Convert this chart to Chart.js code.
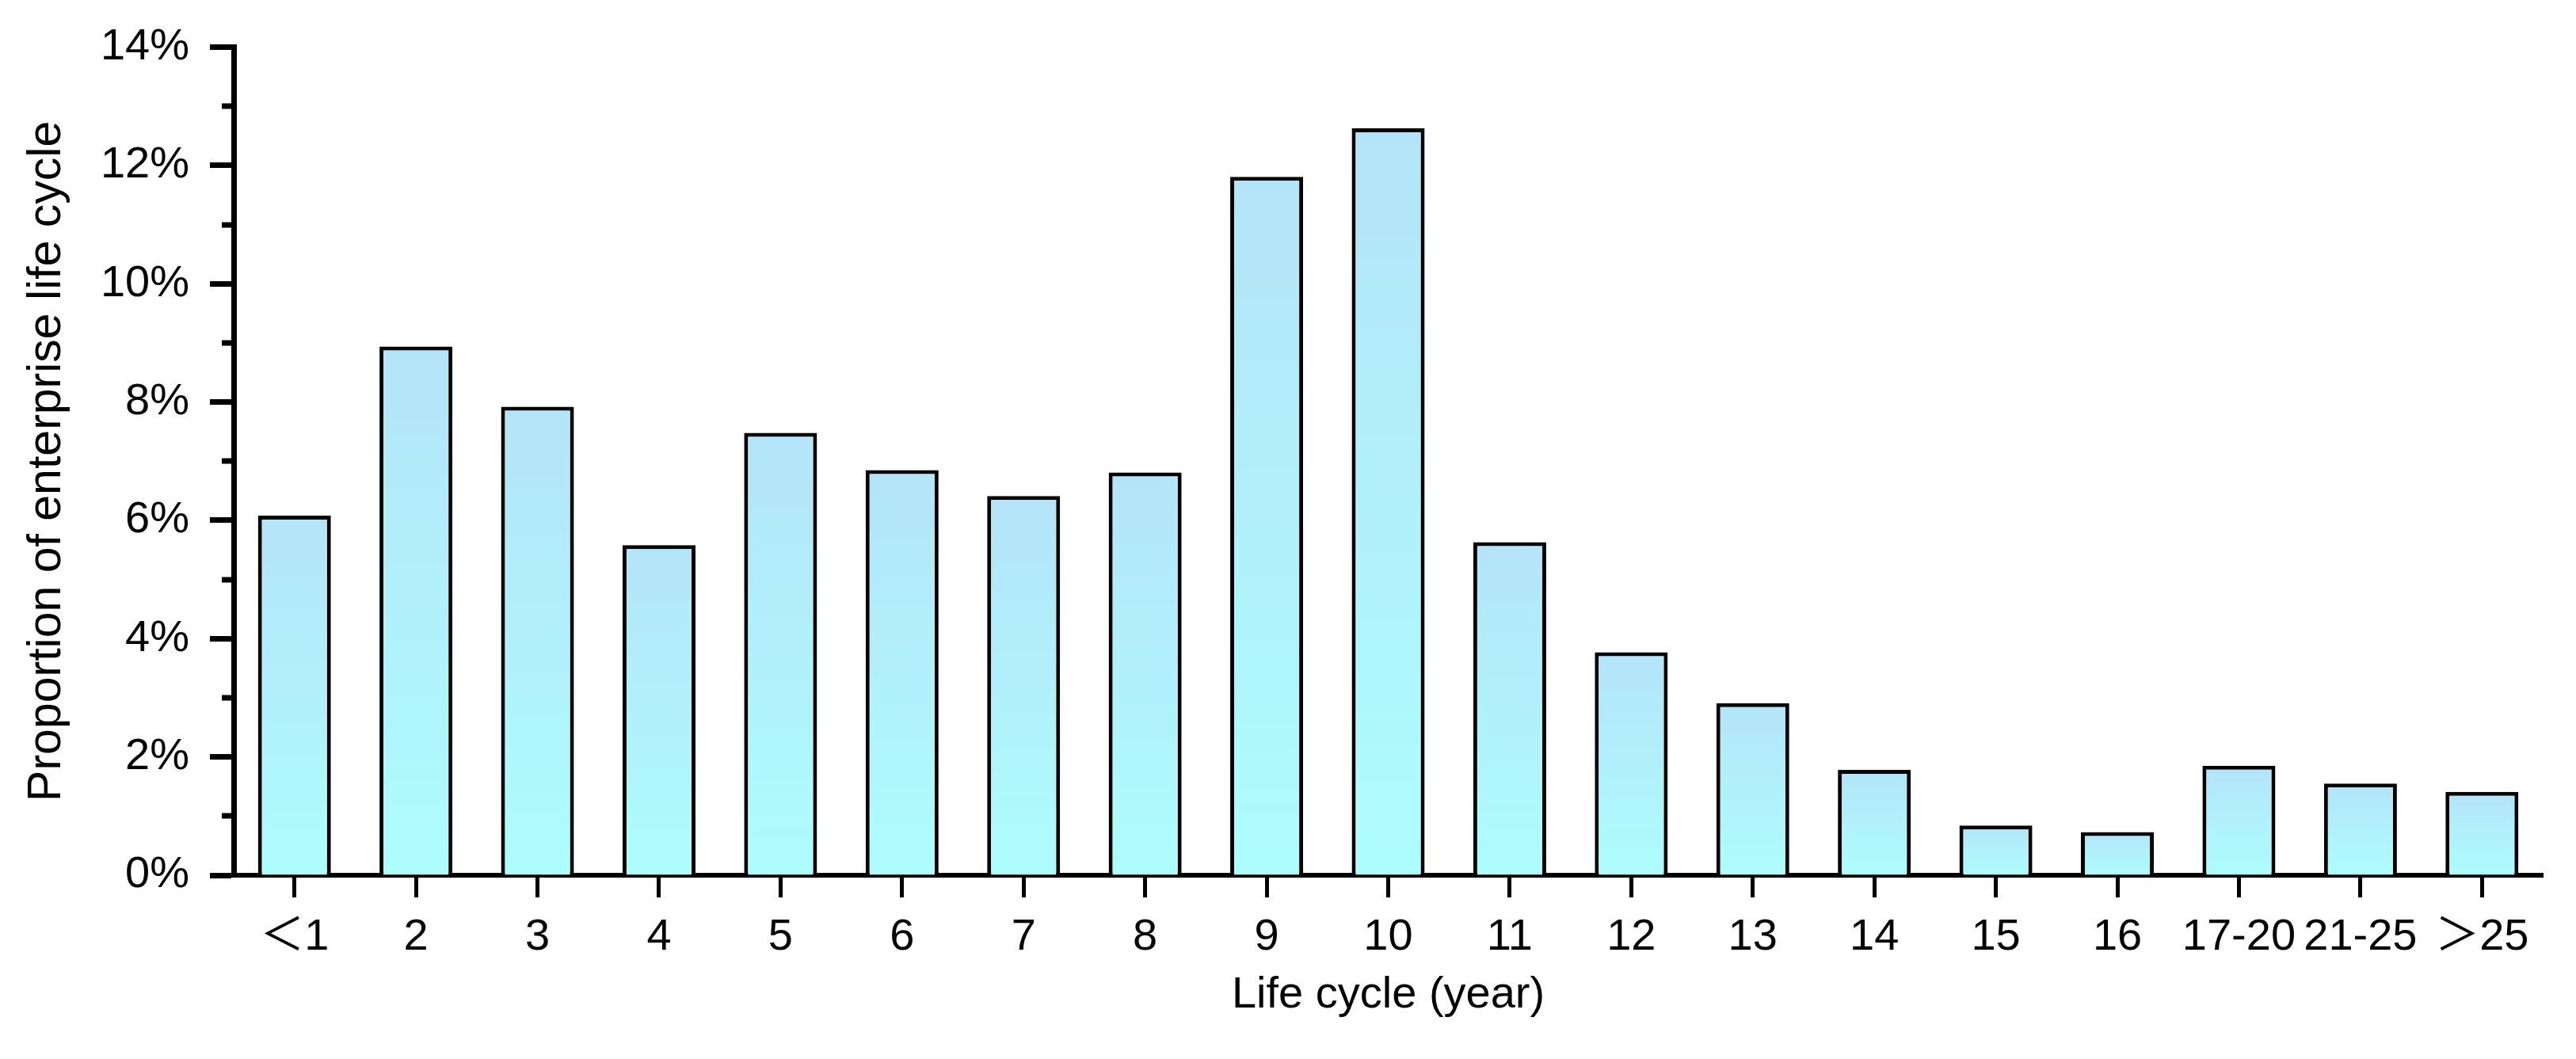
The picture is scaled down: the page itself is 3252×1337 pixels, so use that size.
<!DOCTYPE html>
<html>
<head>
<meta charset="utf-8">
<script src="https://cdn.jsdelivr.net/npm/chart.js@4.4.1/dist/chart.umd.min.js"></script>
<style>
  body { margin: 0; background: #fff; }
  canvas { display: block; }
</style>
</head>
<body>
<canvas id="myChart" width="3252" height="1337"></canvas>
<script>
// data (percent of enterprises)
const categories = ["＜1", "2", "3", "4", "5", "6", "7", "8", "9", "10",
  "11", "12", "13", "14", "15", "16", "17-20", "21-25", "＞25"];
const shares = [6.08, 8.94, 7.92, 5.58, 7.48, 6.85, 6.41, 6.81, 11.81, 12.63,
  5.63, 3.77, 2.91, 1.78, 0.84, 0.73, 1.85, 1.55, 1.41];
const yMax = 14;
const yStep = 2;

Chart.defaults.font.family = '"Liberation Sans", Arial, "Noto Sans CJK SC", sans-serif';
Chart.defaults.font.size = 56;
Chart.defaults.color = "#000";

// light blue at the top of each bar fading to cyan at the base
function barGradient(ctx) {
  const chart = ctx.chart;
  const { chartArea, scales } = chart;
  if (!chartArea || ctx.type !== "data") return "#b4e8f8";
  const top = scales.y.getPixelForValue(ctx.parsed.y);
  const bottom = scales.y.getPixelForValue(0);
  const g = chart.ctx.createLinearGradient(0, top, 0, bottom);
  g.addColorStop(0, "#b4e4f8");
  g.addColorStop(1, "#adfdfd");
  return g;
}

// short unlabeled ticks between the major ones
const minorTicks = {
  id: "minorTicks",
  afterDraw(chart) {
    const y = chart.scales.y;
    const c = chart.ctx;
    c.save();
    c.strokeStyle = "#000";
    c.lineWidth = 7;
    for (let v = yStep / 2; v < yMax; v += yStep) {
      const py = Math.round(y.getPixelForValue(v));
      c.beginPath();
      c.moveTo(chart.chartArea.left - 15, py);
      c.lineTo(chart.chartArea.left, py);
      c.stroke();
    }
    c.restore();
  }
};

new Chart(document.getElementById("myChart"), {
  type: "bar",
  data: {
    labels: categories,
    datasets: [{
      label: "Proportion",
      data: shares,
      backgroundColor: barGradient,
      borderColor: "#000",
      borderWidth: 5,
      borderSkipped: "bottom",
      categoryPercentage: 1,
      barPercentage: 0.6
    }]
  },
  options: {
    responsive: false,
    animation: false,
    devicePixelRatio: 1,
    layout: { padding: { left: 0, right: 42, top: 52, bottom: 47 } },
    plugins: { legend: { display: false }, tooltip: { enabled: false } },
    scales: {
      x: {
        z: 1,
        offset: true,
        afterFit(scale) { scale.height = 185; },
        grid: { offset: false, drawOnChartArea: false, tickLength: 28, tickWidth: 5, tickColor: "#000" },
        border: { display: true, color: "#000", width: 6 },
        ticks: { padding: 17, maxRotation: 0, autoSkip: false },
        title: { display: true, text: "Life cycle (year)", padding: { top: 0, bottom: 0 } }
      },
      y: {
        z: 1,
        min: 0,
        max: yMax,
        afterFit(scale) { scale.width = 295; },
        grid: { drawOnChartArea: false, tickLength: 30, tickWidth: 7, tickColor: "#000" },
        border: { display: true, color: "#000", width: 7 },
        ticks: { stepSize: yStep, padding: 26, callback: v => v + "%" },
        title: { display: true, text: "Proportion of enterprise life cycle", font: { size: 59 }, padding: { top: 24, bottom: 0 } }
      }
    }
  },
  plugins: [minorTicks]
});
</script>
</body>
</html>
